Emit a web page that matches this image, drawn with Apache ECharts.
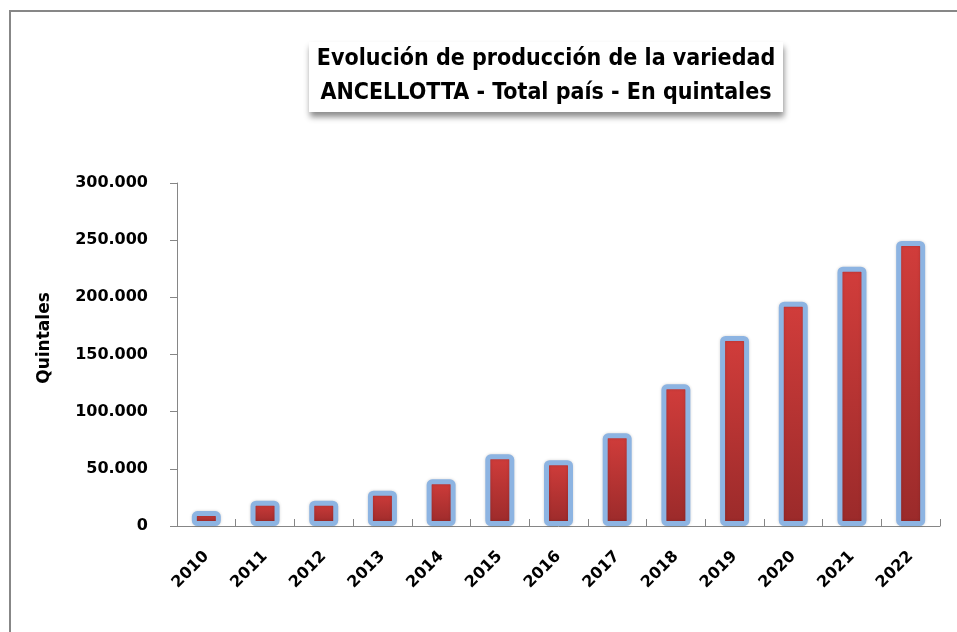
<!DOCTYPE html>
<html>
<head>
<meta charset="utf-8">
<title>Ancellotta</title>
<script src="https://cdn.jsdelivr.net/npm/echarts@6/dist/echarts.min.js"></script>
<style>
  html, body { margin: 0; height: 100%; background: #fff; }
  #main { width: 957px; height: 632px; }
</style>
</head>
<body>
<div id="main"></div>
<script>
  // datos
  var years = ['2010', '2011', '2012', '2013', '2014', '2015', '2016', '2017', '2018', '2019', '2020', '2021', '2022'];
  var quintales = [13100, 22100, 22100, 30900, 40800, 62700, 57500, 81100, 123900, 166200, 196200, 226800, 249300];
  var titleLines = ['Evolución de producción de la variedad', 'ANCELLOTTA - Total país - En quintales'];

  var axisGray = '#868686';
  var labelFont = 'DejaVu Sans';
  var titleFont = 'bold 23px "DejaVu Sans Condensed", "DejaVu Sans", sans-serif';

  function miles(v) {
    return String(v).replace(/\B(?=(\d{3})+(?!\d))/g, '.');
  }

  var chart = echarts.init(document.getElementById('main'));
  chart.setOption({
    animation: false,
    grid: { left: 177, right: 17, top: 183, bottom: 106 },
    xAxis: {
      type: 'category',
      data: years,
      boundaryGap: true,
      axisLine: { lineStyle: { color: axisGray, width: 1 } },
      axisTick: { show: true, inside: true, length: 7, lineStyle: { color: axisGray } },
      axisLabel: {
        rotate: 45,
        margin: 28,
        color: '#000',
        fontFamily: labelFont,
        fontWeight: 'bold',
        fontSize: 16
      },
      splitLine: { show: false }
    },
    yAxis: {
      type: 'value',
      min: 0,
      max: 300000,
      interval: 50000,
      axisLine: { show: true, lineStyle: { color: axisGray, width: 1 } },
      axisTick: { show: true, inside: false, length: 7, lineStyle: { color: axisGray } },
      axisLabel: {
        margin: 29,
        color: '#000',
        fontFamily: labelFont,
        fontWeight: 'bold',
        fontSize: 16,
        formatter: miles
      },
      splitLine: { show: false }
    },
    series: [{
      type: 'bar',
      data: quintales,
      barWidth: 29,
      itemStyle: {
        color: new echarts.graphic.LinearGradient(0, 0, 0, 1, [
          { offset: 0, color: '#d23d3b' },
          { offset: 1, color: '#9a2a2a' }
        ]),
        borderColor: '#8db4e2',
        borderWidth: 5,
        borderRadius: 3,
        shadowBlur: 3,
        shadowColor: 'rgba(0,0,0,0.18)'
      }
    }],
    graphic: [
      {
        type: 'rect',
        silent: true,
        shape: { x: 10, y: 11, width: 980, height: 660 },
        style: { fill: null, stroke: '#878787', lineWidth: 2 }
      },
      {
        type: 'rect',
        silent: true,
        shape: { x: 309, y: 42, width: 474, height: 70 },
        style: {
          fill: '#fff',
          shadowBlur: 6,
          shadowOffsetY: 5,
          shadowOffsetX: 1,
          shadowColor: 'rgba(0,0,0,0.45)'
        }
      },
      {
        type: 'text',
        silent: true,
        x: 546,
        y: 59,
        style: {
          text: titleLines[0],
          fill: '#000',
          font: titleFont,
          textAlign: 'center',
          textVerticalAlign: 'middle'
        }
      },
      {
        type: 'text',
        silent: true,
        x: 546,
        y: 93,
        style: {
          text: titleLines[1],
          fill: '#000',
          font: titleFont,
          textAlign: 'center',
          textVerticalAlign: 'middle'
        }
      },
      {
        type: 'text',
        silent: true,
        x: 45,
        y: 338,
        rotation: Math.PI / 2,
        style: {
          text: 'Quintales',
          fill: '#000',
          font: 'bold 17px "DejaVu Sans", sans-serif',
          textAlign: 'center',
          textVerticalAlign: 'middle'
        }
      }
    ]
  });
</script>
</body>
</html>
